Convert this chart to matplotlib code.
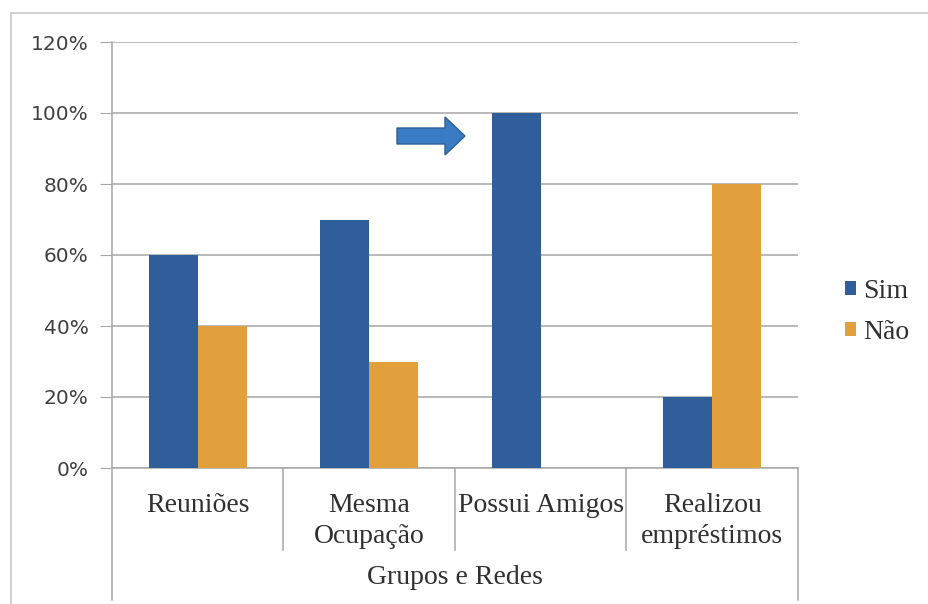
import matplotlib.pyplot as plt
import matplotlib.patches as mpatches
from matplotlib.lines import Line2D
from matplotlib.transforms import blended_transform_factory
import numpy as np

# Data
categorias = ["Reuniões", "Mesma\nOcupação", "Possui Amigos", "Realizou\nempréstimos"]
sim = [60, 70, 100, 20]
nao = [40, 30, 0, 80]
titulo_eixo = "Grupos e Redes"

azul = "#2f5e9b"
laranja = "#e1a03c"
cinza = "#a6a6a6"
serif = ["Liberation Serif", "DejaVu Serif"]

fig = plt.figure(figsize=(9.29, 6.04), dpi=100)
ax = fig.add_axes([112 / 929, 1 - 468 / 604, 686 / 929, 426 / 604])

x = np.arange(len(categorias))
w = 0.285
ax.bar(x - w / 2, sim, w, color=azul, label="Sim", zorder=3)
ax.bar(x + w / 2, nao, w, color=laranja, label="Não", zorder=3)

ax.set_xlim(-0.5, len(categorias) - 0.5)
ax.set_ylim(0, 120)
ax.set_yticks(range(0, 121, 20))
ax.set_yticklabels([f"{v}%" for v in range(0, 121, 20)])
ax.tick_params(axis="y", length=9, color=cinza, labelsize=14.5,
               labelcolor="#404040", pad=8)
ax.set_xticks([])
ax.grid(axis="y", color=cinza, linewidth=1.1, zorder=0)
for s in ["top", "right"]:
    ax.spines[s].set_visible(False)
ax.spines["left"].set_color(cinza)
ax.spines["bottom"].set_color(cinza)
ax.spines["left"].set_linewidth(1.1)
ax.spines["bottom"].set_linewidth(1.1)

# category labels and divider lines under the axis
tr = blended_transform_factory(ax.transData, ax.transAxes)
px = 1 / 426
for i, nome in enumerate(categorias):
    ax.text(i, -25 * px, nome, transform=tr, ha="center", va="top",
            fontsize=20, family=serif, color="#303030", linespacing=1.3)
for i, xd in enumerate(np.arange(-0.5, len(categorias))):
    fim = -132 * px if i in (0, len(categorias)) else -82 * px
    ax.add_line(Line2D([xd, xd], [0, fim], transform=tr, color=cinza,
                       linewidth=1.1, clip_on=False))
ax.text(1.5, -110 * px, titulo_eixo, transform=tr, ha="center", va="center",
        fontsize=20, family=serif, color="#303030")

# highlight arrow pointing at the third group
seta = mpatches.FancyArrow((397 - 112) / 686, (468 - 136) / 426, 48 / 686, 0,
                           width=16 / 426, head_width=38 / 426,
                           head_length=20 / 686, length_includes_head=False,
                           transform=ax.transAxes, facecolor="#3a7cc4",
                           edgecolor="#2c5f9a", linewidth=1, zorder=5)
ax.add_patch(seta)

leg = ax.legend(loc="center left", bbox_to_anchor=(820 / 929, 1 - 312 / 604),
                bbox_transform=fig.transFigure, frameon=False,
                prop={"family": serif, "size": 20}, handlelength=0.4,
                handleheight=0.4, handletextpad=0.25, labelspacing=0.6)
for t in leg.get_texts():
    t.set_color("#303030")

# outer chart frame
fig.add_artist(Line2D([11 / 929, 11 / 929], [0, 1 - 13 / 604],
                      transform=fig.transFigure, color="#c8c8c8", linewidth=1.2))
fig.add_artist(Line2D([11 / 929, 1], [1 - 13 / 604, 1 - 13 / 604],
                      transform=fig.transFigure, color="#c8c8c8", linewidth=1.2))

fig.savefig("out.png", dpi=100)
